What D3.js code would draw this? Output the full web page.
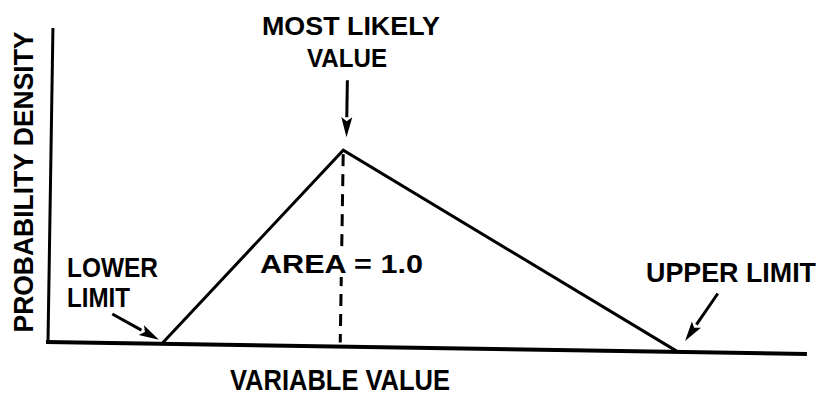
<!DOCTYPE html>
<html>
<head>
<meta charset="utf-8">
<script src="https://cdn.jsdelivr.net/npm/d3@7"></script>
<style>
  body { margin: 0; background: #fff; }
  text { font-family: "Liberation Sans", Arial, sans-serif; font-weight: bold; fill: #000; }
</style>
</head>
<body>
<div id="chart"></div>
<script>
// Triangular distribution (values on a 0-100 variable scale)
var lowerLimit = 15;
var mostLikely = 38.5;
var upperLimit = 83;
var peakDensity = 2 / (upperLimit - lowerLimit);
var xDomain = [0, 100];
var yDomain = [0, 0.047];

var triangle = [
    { x: lowerLimit, y: 0 },
    { x: mostLikely, y: peakDensity },
    { x: upperLimit, y: 0 }
];

var width = 828, height = 397;
var origin = { x: 48, y: 342 }; // corner of the axes
var plotW = 759, plotH = 314;

var svg = d3.select("#chart")
    .append("svg")
    .attr("width", width)
    .attr("height", height);

// the scanned figure sits slightly tilted
var g = svg.append("g")
    .attr("transform", "translate(" + origin.x + "," + origin.y + ") rotate(0.9)");

var xScale = d3.scaleLinear().domain(xDomain).range([0, plotW]);
var yScale = d3.scaleLinear().domain(yDomain).range([0, -plotH]);

// axes (plain lines, no ticks)
g.append("line")
    .attr("x1", xScale(0)).attr("y1", yScale(0))
    .attr("x2", xScale(0)).attr("y2", yScale(yDomain[1]))
    .attr("stroke", "#000").attr("stroke-width", 3);
g.append("line")
    .attr("x1", xScale(0) - 2).attr("y1", yScale(0))
    .attr("x2", xScale(100)).attr("y2", yScale(0))
    .attr("stroke", "#000").attr("stroke-width", 4);

// dashed line at the most likely value
g.append("line")
    .attr("x1", xScale(mostLikely)).attr("y1", yScale(peakDensity) + 4)
    .attr("x2", xScale(mostLikely)).attr("y2", yScale(0) - 4)
    .attr("stroke", "#000").attr("stroke-width", 3)
    .attr("stroke-dasharray", "12,8");

// the triangle itself
var line = d3.line()
    .x(function(d) { return xScale(d.x); })
    .y(function(d) { return yScale(d.y); });

g.append("path")
    .datum(triangle)
    .attr("d", line)
    .attr("fill", "none")
    .attr("stroke", "#000")
    .attr("stroke-width", 3)
    .attr("stroke-linejoin", "miter");

// arrows: from (x1,y1) to tip (x2,y2) in plot coords
function arrow(x1, y1, x2, y2) {
    var dx = x2 - x1, dy = y2 - y1;
    var len = Math.sqrt(dx * dx + dy * dy);
    var ux = dx / len, uy = dy / len;
    var headL = 20, headW = 5.5;
    var bx = x2 - ux * headL, by = y2 - uy * headL;
    g.append("line")
        .attr("x1", x1).attr("y1", y1)
        .attr("x2", bx).attr("y2", by)
        .attr("stroke", "#000").attr("stroke-width", 3);
    g.append("path")
        .attr("d", "M" + x2 + "," + y2 +
            "L" + (bx - uy * headW) + "," + (by + ux * headW) +
            "L" + (bx + ux * 4) + "," + (by + uy * 4) +
            "L" + (bx + uy * headW) + "," + (by - ux * headW) + "Z")
        .attr("fill", "#000");
}

var px = xScale(mostLikely), py = yScale(peakDensity);
arrow(px + 3, py - 70, px + 3, py - 13);
var lx = xScale(lowerLimit), ly = yScale(0);
arrow(lx - 50, ly - 29, lx - 3, ly - 4);
var ux0 = xScale(upperLimit), uy0 = yScale(0);
arrow(ux0 + 39, uy0 - 59, ux0 + 7, uy0 - 11);

// labels
function label(txt, x, y, size, len, anchor) {
    return svg.append("text")
        .attr("x", x).attr("y", y)
        .attr("font-size", size)
        .attr("text-anchor", anchor || "start")
        .attr("textLength", len)
        .attr("lengthAdjust", "spacingAndGlyphs")
        .text(txt);
}

label("MOST LIKELY", 262, 35, 26, 178);
label("VALUE", 307, 67, 26, 80);
label("LOWER", 67, 277, 28, 91);
label("LIMIT", 67, 307, 28, 63);
label("UPPER LIMIT", 646, 282, 28, 170);
label("VARIABLE VALUE", 230, 390, 30, 220);

label("AREA = 1.0", 260, 273, 25, 163)
    .attr("stroke", "#fff").attr("stroke-width", 8)
    .attr("paint-order", "stroke");

svg.append("text")
    .attr("transform", "translate(33,182) rotate(-90)")
    .attr("text-anchor", "middle")
    .attr("font-size", 27)
    .attr("textLength", 301)
    .attr("lengthAdjust", "spacingAndGlyphs")
    .text("PROBABILITY DENSITY");
</script>
</body>
</html>
